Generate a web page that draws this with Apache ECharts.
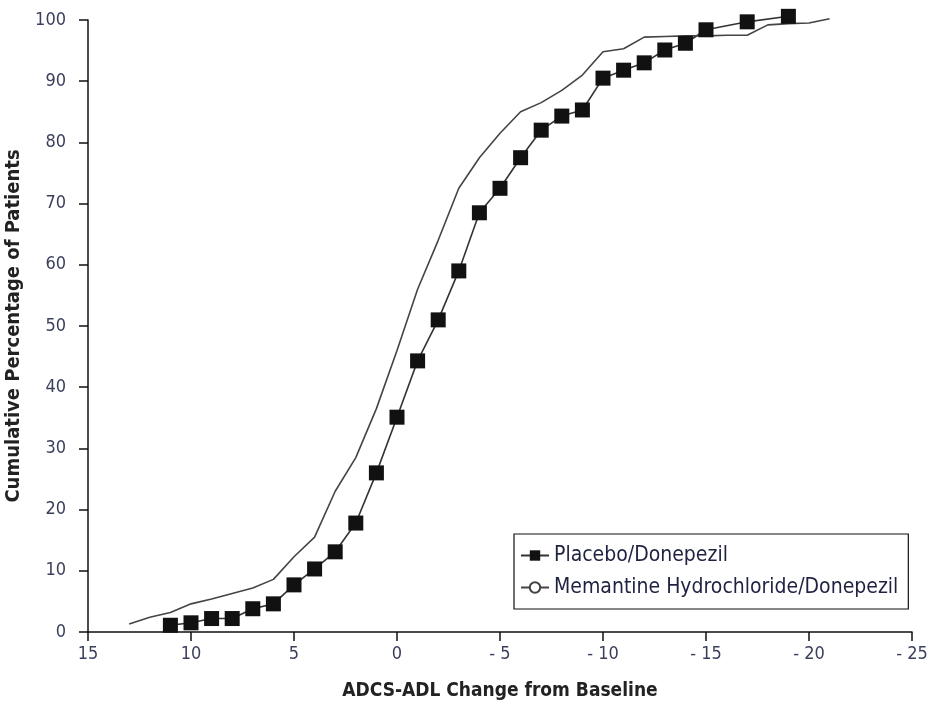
<!DOCTYPE html>
<html><head><meta charset="utf-8">
<script src="https://cdn.jsdelivr.net/npm/echarts@6/dist/echarts.min.js"></script>
<style>html,body{margin:0;padding:0;background:#fff}#c{width:935px;height:713px}</style>
</head><body><div id="c"></div>
<script>
const placeboX = [11,10,9,8,7,6,5,4,3,2,1,0,-1,-2,-3,-4,-5,-6,-7,-8,-9,-10,-11,-12,-13,-14,-15,-17,-19];
const placeboY = [1.1,1.5,2.2,2.2,3.8,4.6,7.7,10.3,13.1,17.8,26,35.1,44.3,51,59,68.5,72.5,77.5,82,84.3,85.3,90.5,91.8,93,95.1,96.2,98.4,99.7,100.6];
const memX = [13,12,11,10,9,8,7,6,5,4,3,2,1,0,-1,-2,-3,-4,-5,-6,-7,-8,-9,-10,-11,-12,-13,-14,-15,-16,-17,-18,-19,-20,-21];
const memY = [1.3,2.4,3.2,4.6,5.4,6.3,7.2,8.6,12.3,15.5,23,28.5,36.5,46,56,64,72.5,77.5,81.5,85,86.5,88.5,91,94.8,95.3,97.2,97.3,97.4,97.4,97.5,97.5,99.2,99.4,99.5,100.2];
const seriesNames = ['Placebo/Donepezil','Memantine Hydrochloride/Donepezil'];
const xTitle = 'ADCS-ADL Change from Baseline';
const yTitle = 'Cumulative Percentage of Patients';

const font = '"Liberation Sans Narrow","DejaVu Sans Condensed","Liberation Sans",sans-serif';
const chart = echarts.init(document.getElementById('c'));
chart.setOption({
  animation:false,
  backgroundColor:'#fff',
  grid:{left:88,right:23,top:20,bottom:81,containLabel:false,outerBoundsMode:'none'},
  legend:{
    left:514, top:534, width:398, orient:'vertical',
    borderColor:'#111', borderWidth:1.2, padding:[11,10,11,6], itemGap:11,
    itemWidth:28, itemHeight:13,
    textStyle:{fontFamily:font, fontSize:21, color:'#1e2240'},
    data:[{name:seriesNames[0]},{name:seriesNames[1]}]
  },
  xAxis:{
    type:'value', inverse:true, min:-25, max:15, interval:5,
    name:xTitle, nameLocation:'middle', nameGap:50,
    nameTextStyle:{fontFamily:font, fontSize:19, fontWeight:'bold', color:'#222'},
    axisLine:{show:true, onZero:false, lineStyle:{color:'#111', width:1.5}},
    axisTick:{show:true, length:9, lineStyle:{color:'#111', width:1.5}},
    axisLabel:{fontFamily:font, fontSize:18, color:'#3a3f5c', margin:13,
      formatter:v=> v<0 ? '- '+(-v) : String(v)},
    splitLine:{show:false}
  },
  yAxis:{
    type:'value', min:0, max:100, interval:10,
    name:yTitle, nameLocation:'middle', nameGap:59, nameRotate:90,
    nameTextStyle:{fontFamily:font, fontSize:20, fontWeight:'bold', color:'#222'},
    axisLine:{show:true, onZero:false, lineStyle:{color:'#111', width:1.5}},
    axisTick:{show:true, length:9, lineStyle:{color:'#111', width:1.5}},
    axisLabel:{fontFamily:font, fontSize:18, color:'#3a3f5c', margin:22},
    splitLine:{show:false}
  },
  series:[
    {name:seriesNames[0], type:'line', clip:false,
     data:placeboX.map((x,i)=>[x,placeboY[i]]),
     symbol:'rect', symbolSize:15, showSymbol:true,
     itemStyle:{color:'#111'}, lineStyle:{color:'#333', width:1.6}},
    {name:seriesNames[1], type:'line', clip:false,
     data:memX.map((x,i)=>[x,memY[i]]),
     symbol:'emptyCircle', symbolSize:8, showSymbol:false,
     itemStyle:{color:'#444', borderColor:'#444'}, lineStyle:{color:'#444', width:1.6}}
  ]
});
</script></body></html>
